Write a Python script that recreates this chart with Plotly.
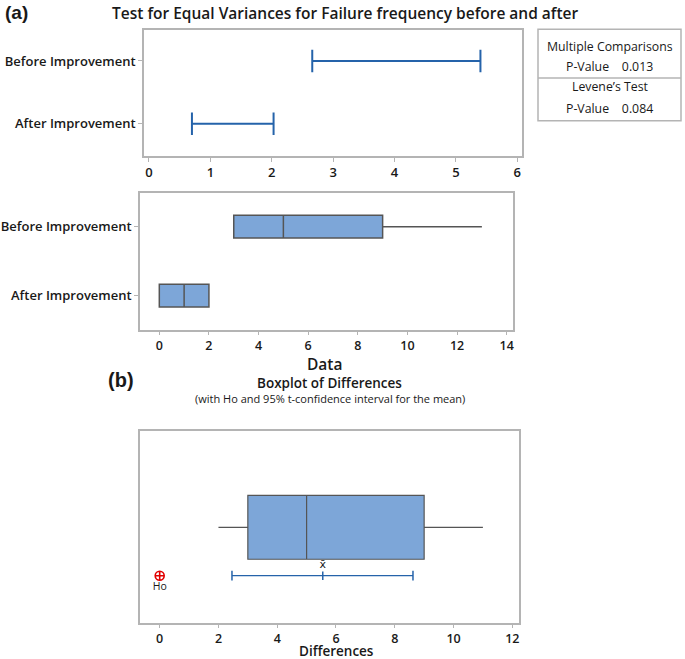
import plotly.graph_objects as go

# ---------------- data ----------------
groups = ["Before Improvement", "After Improvement"]
ci_lower = [2.66, 0.70]          # 95% CI for StDev (panel a, top)
ci_upper = [5.40, 2.03]

box_q1 = [3, 0]
box_median = [5, 1]
box_q3 = [9, 2]
box_low = [3, 0]
box_high = [13, 2]

diff_q1 = [3]
diff_median = [5]
diff_q3 = [9]
diff_low = [2]
diff_high = [11]
diff_mean = 5.55
diff_ci = [2.46, 8.62]
h0_value = 0

mc_pvalue = "0.013"
levene_pvalue = "0.084"

W, H = 685, 659
def px(x): return x / W
def py(y): return 1 - y / H

FONT = "Open Sans"
BLUE = "rgb(37,99,170)"
BOXFILL = "rgb(125,166,216)"
BOXLINE = "rgb(85,85,85)"
FRAME = "rgb(180,180,180)"
TXT = "rgb(25,25,25)"

fig = go.Figure()

# Panel 1: CI intervals
for g, lo, hi in zip(groups, ci_lower, ci_upper):
    fig.add_trace(go.Scatter(
        x=[lo, hi], y=[g, g], mode="lines+markers",
        line=dict(color=BLUE, width=2),
        marker=dict(symbol="line-ns-open", size=16, color=BLUE, line=dict(color=BLUE, width=2)),
        xaxis="x", yaxis="y", showlegend=False, hoverinfo="x+y"))

# Panel 2: boxplots
fig.add_trace(go.Box(
    y=groups, q1=box_q1, median=box_median, q3=box_q3,
    lowerfence=box_low, upperfence=box_high, orientation="h",
    fillcolor=BOXFILL, line=dict(color=BOXLINE, width=1.5),
    whiskerwidth=0, width=0.33, boxpoints=False,
    xaxis="x2", yaxis="y2", showlegend=False))

# Panel 3: boxplot of differences
fig.add_trace(go.Box(
    y=["Differences"], q1=diff_q1, median=diff_median, q3=diff_q3,
    lowerfence=diff_low, upperfence=diff_high, orientation="h",
    fillcolor=BOXFILL, line=dict(color=BOXLINE, width=1.2),
    whiskerwidth=0, width=1.32, boxpoints=False,
    xaxis="x3", yaxis="y3", showlegend=False))

fig.add_trace(go.Scatter(
    x=diff_ci, y=["Mean CI", "Mean CI"], mode="lines+markers",
    line=dict(color=BLUE, width=1.3),
    marker=dict(symbol="line-ns-open", size=7, color=BLUE, line=dict(color=BLUE, width=1.5)),
    xaxis="x3", yaxis="y3", showlegend=False))
fig.add_trace(go.Scatter(
    x=[diff_mean], y=["Mean CI"], mode="markers+text",
    marker=dict(symbol="line-ns-open", size=6, color=BLUE, line=dict(color=BLUE, width=1.5)),
    text=["x\u0304"], textposition="top center",
    textfont=dict(family="DejaVu Sans", size=11, color=TXT),
    xaxis="x3", yaxis="y3", showlegend=False))
fig.add_trace(go.Scatter(
    x=[h0_value], y=["Mean CI"], mode="markers+text",
    marker=dict(symbol="circle-cross-open", size=9, color="rgb(225,0,0)",
                line=dict(color="rgb(225,0,0)", width=1.6)),
    text=["Ho"], textposition="bottom center",
    textfont=dict(family=FONT, size=10.5, color=TXT),
    xaxis="x3", yaxis="y3", showlegend=False))

tickfont = dict(family=FONT, size=13, color=TXT, weight=600)
xtickfont = dict(family=FONT, size=12.5, color=TXT, weight=600)
axis_common = dict(showline=True, linecolor=FRAME, linewidth=1.5, mirror=True,
                   ticks="outside", ticklen=4, tickcolor=FRAME, tickwidth=1,
                   showgrid=False, zeroline=False, tickfont=tickfont)
xaxis_common = dict(axis_common, tickfont=xtickfont, ticklen=3)

fig.update_layout(
    width=W, height=H, margin=dict(l=0, r=0, t=0, b=0),
    paper_bgcolor="white", plot_bgcolor="white",
    font=dict(family=FONT, color=TXT),
    xaxis=dict(domain=[px(144), px(522)], range=[-0.081, 6.077], anchor="y",
               tickvals=[0, 1, 2, 3, 4, 5, 6], **axis_common),
    yaxis=dict(domain=[py(156), py(29.5)], type="category",
               categoryarray=groups[::-1], range=[-0.515, 1.502], anchor="x",
               **axis_common),
    xaxis2=dict(domain=[px(140), px(513.3)], range=[-0.778, 14.266], anchor="y2",
                tickvals=[0, 2, 4, 6, 8, 10, 12, 14], **xaxis_common),
    yaxis2=dict(domain=[py(330), py(192.7)], type="category",
                categoryarray=groups[::-1], range=[-0.497, 1.493], anchor="x2",
                **axis_common),
    xaxis3=dict(domain=[px(140), px(518.7)], range=[-0.67, 12.218], anchor="y3",
                tickvals=[0, 2, 4, 6, 8, 10, 12], **xaxis_common),
    yaxis3=dict(domain=[py(623.3), py(431.3)], type="category",
                categoryarray=["Mean CI", "Differences"], range=[-0.983, 2.983],
                anchor="x3", showticklabels=False,
                **{k: v for k, v in axis_common.items() if k not in ("ticks",)}, ticks=""),
)

anns = [
    dict(x=px(4), y=py(13), text="<b>(a)</b>", xanchor="left",
         font=dict(size=19, family="Liberation Sans")),
    dict(x=px(345), y=py(13), text="Test for Equal Variances for Failure frequency before and after",
         font=dict(size=15.5, weight=600)),
    dict(x=px(324), y=py(364), text="Data", font=dict(size=15.5, weight=600)),
    dict(x=px(107), y=py(380), text="<b>(b)</b>", xanchor="left",
         font=dict(size=20, family="Liberation Sans")),
    dict(x=px(329), y=py(382.5), text="Boxplot of Differences", font=dict(size=13.5, weight=600)),
    dict(x=px(330), y=py(398), text="(with Ho and 95% t-confidence interval for the mean)",
         font=dict(size=11)),
    dict(x=px(336), y=py(650.5), text="Differences", font=dict(size=13.5, weight=600)),
    dict(x=px(609.5), y=py(46), text="Multiple Comparisons", font=dict(size=12.3)),
    dict(x=px(609.5), y=py(66), text="P-Value    " + mc_pvalue, font=dict(size=12.3)),
    dict(x=px(609.5), y=py(87), text="Levene’s Test", font=dict(size=12.3)),
    dict(x=px(609.5), y=py(108), text="P-Value    " + levene_pvalue, font=dict(size=12.3)),
]
for a in anns:
    a.setdefault("xanchor", "center")
    a.setdefault("yanchor", "middle")
    a.update(xref="paper", yref="paper", showarrow=False, borderpad=0)
    f = dict(family=FONT, color=TXT)
    f.update(a["font"])
    a["font"] = f
fig.update_layout(annotations=anns)

fig.update_layout(shapes=[
    dict(type="rect", xref="paper", yref="paper", x0=px(538), x1=px(681),
         y0=py(120.7), y1=py(29.3), line=dict(color=FRAME, width=1.5)),
    dict(type="line", xref="paper", yref="paper", x0=px(538), x1=px(681),
         y0=py(78), y1=py(78), line=dict(color=FRAME, width=1.5)),
])

fig.write_html("out.html", config={"displayModeBar": False},
               post_script="document.body.style.margin='0';document.body.style.overflow='hidden';")
